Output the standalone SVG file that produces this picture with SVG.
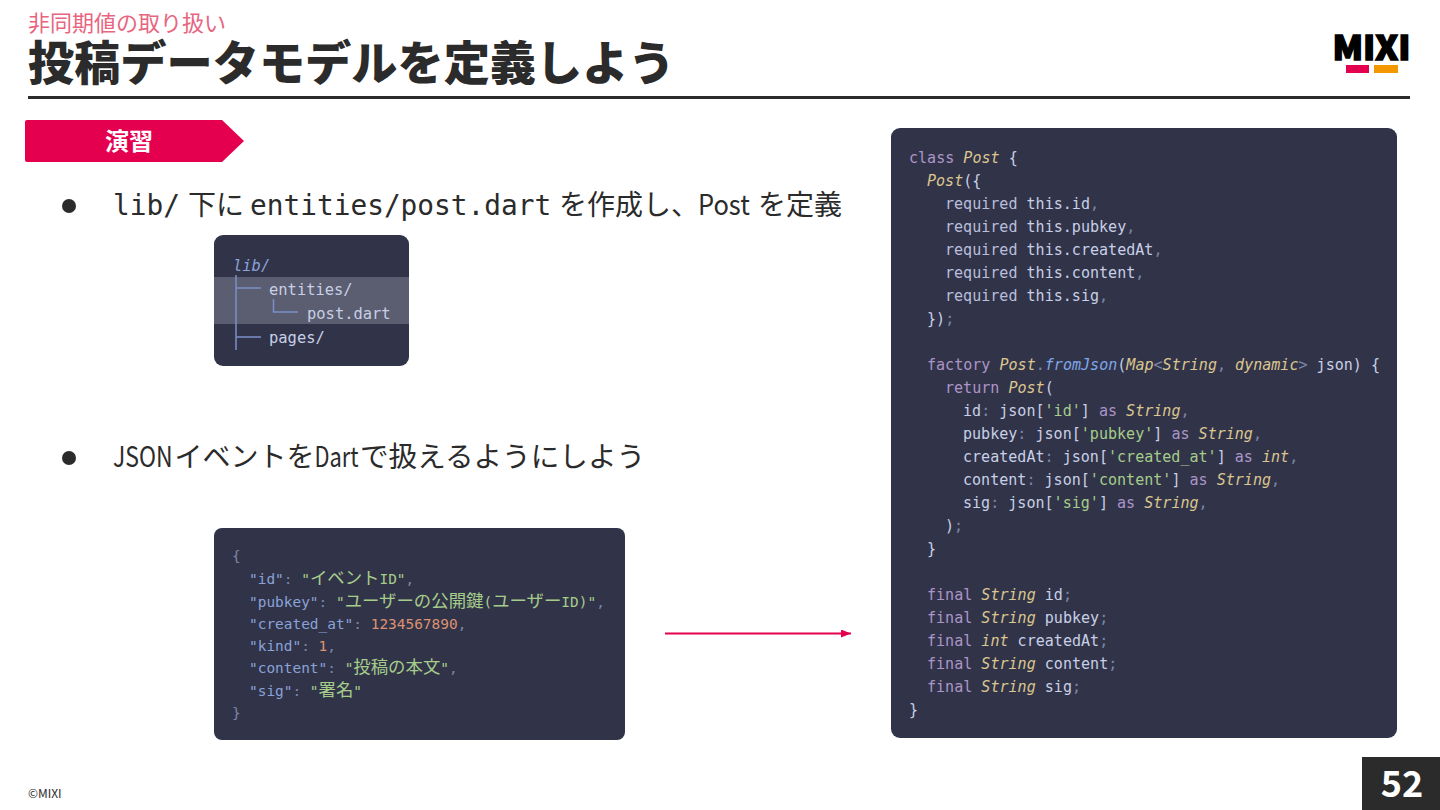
<svg xmlns="http://www.w3.org/2000/svg" width="1440" height="810" viewBox="0 0 1440 810">
<style>
text{font-family:"Noto Sans CJK JP","Noto Sans",sans-serif}
.m{font-family:"DejaVu Sans Mono","Noto Sans CJK JP",monospace}
.panel{fill:#313449}
.b{font-size:28px;fill:#2b2b2b}
.bm{font-size:27.8px;fill:#2b2b2b;font-family:"DejaVu Sans Mono","Noto Sans CJK JP",monospace}
.c{font-size:15.05px;fill:#c8cfe6}
.j{font-size:14.45px;fill:#8aa2d8}
.t{font-size:15.45px;fill:#c8cfe6}
.k{fill:#ad94c8}
.y{fill:#dcc68f;font-style:italic}
.p{fill:#7c86a8}
.s{fill:#a6cc8a}
.n{fill:#dc9272}
.f{fill:#7fa6e8;font-style:italic}
.r{fill:#b9bedb}
.cj{font-size:17.4px}
</style>
<defs>
<marker id="ah" markerUnits="userSpaceOnUse" markerWidth="10" markerHeight="8" refX="10" refY="4" orient="auto"><path d="M0 0L10 4L0 8Z" fill="#e5004f"/></marker>
</defs>
<rect width="1440" height="810" fill="#fff"/>
<g id="header">
<text x="28" y="31" font-size="22" fill="#e8657f">非同期値の取り扱い</text>
<text x="28" y="80" font-size="46.200" font-weight="900" fill="#2b2b2b">投稿データモデルを定義しよう</text>
<rect x="28" y="96" width="1382" height="3" fill="#2b2b2b"/>
</g>
<g id="logo">
<text x="1332.500" y="60" font-family="Inter,sans-serif" font-size="33" font-weight="900" fill="#000" stroke="#000" stroke-width="1.500" textLength="78" lengthAdjust="spacingAndGlyphs">MIXI</text>
<rect x="1346" y="65" width="23" height="8" fill="#e5004f"/>
<rect x="1374" y="65" width="24" height="8" fill="#f39800"/>
</g>
<g id="badge">
<path d="M27 120H222L244 141L222 162H27Q25 162 25 160V122Q25 120 27 120Z" fill="#e5004f"/>
<text x="105" y="150" font-size="24" font-weight="700" fill="#fff">演習</text>
</g>
<g id="bullet1">
<circle cx="69" cy="206" r="7" fill="#2b2b2b"/>
<text x="113" y="215" class="bm">lib/</text>
<text x="188" y="215" class="b">下に</text>
<text x="250" y="215" class="bm">entities/post.dart</text>
<text x="559" y="215" class="b">を作成し、</text>
<text transform="translate(698 215) scale(.91 1)" class="b">Post</text>
<text x="758" y="215" class="b">を定義</text>
</g>
<g id="bullet2">
<circle cx="69" cy="458" r="7" fill="#2b2b2b"/>
<text transform="translate(113 467) scale(.82 1)" class="b">JSON</text>
<text x="174.500" y="467" class="b">イベントを</text>
<text transform="translate(314.500 467) scale(.78 1)" class="b">Dart</text>
<text x="360" y="467" class="b" style="font-size:28.6px">で扱えるようにしよう</text>
</g>
<g id="tree">
<rect x="214" y="235" width="195" height="131" rx="9" class="panel"/>
<rect x="214" y="277" width="195" height="47" fill="#5b5d70"/>
<path d="M236 275V350M236 288H261M236 337H261M273.500 299V312H298" fill="none" stroke="#7b8fc7" stroke-width="1.500"/>
<text x="233" y="271" class="m t" style="fill:#8aa2d8;font-style:italic">lib/</text>
<text x="269" y="295" class="m t">entities/</text>
<text x="307" y="319" class="m t">post.dart</text>
<text x="269" y="343" class="m t">pages/</text>
</g>
<g id="json">
<rect x="214" y="528" width="411" height="212" rx="8" class="panel"/>
<text x="232" y="560.500" class="m j"><tspan class="p">{</tspan></text>
<text x="249" y="583.500" class="m j">"id"<tspan class="p">: </tspan><tspan class="s">"<tspan class="cj">イベント</tspan>ID"</tspan><tspan class="p">,</tspan></text>
<text x="249" y="606.500" class="m j">"pubkey"<tspan class="p">: </tspan><tspan class="s">"<tspan class="cj">ユーザーの公開鍵</tspan>(<tspan class="cj">ユーザー</tspan>ID)"</tspan><tspan class="p">,</tspan></text>
<text x="249" y="628.500" class="m j">"created_at"<tspan class="p">: </tspan><tspan class="n">1234567890</tspan><tspan class="p">,</tspan></text>
<text x="249" y="650.500" class="m j">"kind"<tspan class="p">: </tspan><tspan class="n">1</tspan><tspan class="p">,</tspan></text>
<text x="249" y="672.500" class="m j">"content"<tspan class="p">: </tspan><tspan class="s">"<tspan class="cj">投稿の本文</tspan>"</tspan><tspan class="p">,</tspan></text>
<text x="249" y="695.500" class="m j">"sig"<tspan class="p">: </tspan><tspan class="s">"<tspan class="cj">署名</tspan>"</tspan></text>
<text x="232" y="717.500" class="m j"><tspan class="p">}</tspan></text>
</g>
<g id="connectors">
<line x1="665" y1="633.500" x2="851" y2="633.500" stroke="#e5004f" stroke-width="1.800" marker-end="url(#ah)"/>
</g>
<g id="code">
<rect x="891" y="128" width="506" height="610" rx="9" class="panel"/>
<text x="909" y="163" class="m c"><tspan class="k">class</tspan> <tspan class="y">Post</tspan> {</text>
<text x="927" y="186" class="m c"><tspan class="y">Post</tspan>({</text>
<text x="945" y="209" class="m c"><tspan class="r">required</tspan> this.id<tspan class="p">,</tspan></text>
<text x="945" y="232" class="m c"><tspan class="r">required</tspan> this.pubkey<tspan class="p">,</tspan></text>
<text x="945" y="255" class="m c"><tspan class="r">required</tspan> this.createdAt<tspan class="p">,</tspan></text>
<text x="945" y="278" class="m c"><tspan class="r">required</tspan> this.content<tspan class="p">,</tspan></text>
<text x="945" y="301" class="m c"><tspan class="r">required</tspan> this.sig<tspan class="p">,</tspan></text>
<text x="927" y="324" class="m c">})<tspan class="p">;</tspan></text>
<text x="927" y="370" class="m c"><tspan class="k">factory</tspan> <tspan class="y">Post</tspan><tspan class="p">.</tspan><tspan class="f">fromJson</tspan>(<tspan class="y">Map</tspan><tspan class="p">&lt;</tspan><tspan class="y">String</tspan><tspan class="p">,</tspan> <tspan class="y">dynamic</tspan><tspan class="p">&gt;</tspan> json) {</text>
<text x="945" y="393" class="m c"><tspan class="k">return</tspan> <tspan class="y">Post</tspan>(</text>
<text x="963" y="416" class="m c">id<tspan class="p">:</tspan> json[<tspan class="s">'id'</tspan>] <tspan class="k">as</tspan> <tspan class="y">String</tspan><tspan class="p">,</tspan></text>
<text x="963" y="439" class="m c">pubkey<tspan class="p">:</tspan> json[<tspan class="s">'pubkey'</tspan>] <tspan class="k">as</tspan> <tspan class="y">String</tspan><tspan class="p">,</tspan></text>
<text x="963" y="462" class="m c">createdAt<tspan class="p">:</tspan> json[<tspan class="s">'created_at'</tspan>] <tspan class="k">as</tspan> <tspan class="y">int</tspan><tspan class="p">,</tspan></text>
<text x="963" y="485" class="m c">content<tspan class="p">:</tspan> json[<tspan class="s">'content'</tspan>] <tspan class="k">as</tspan> <tspan class="y">String</tspan><tspan class="p">,</tspan></text>
<text x="963" y="508" class="m c">sig<tspan class="p">:</tspan> json[<tspan class="s">'sig'</tspan>] <tspan class="k">as</tspan> <tspan class="y">String</tspan><tspan class="p">,</tspan></text>
<text x="945" y="531" class="m c">)<tspan class="p">;</tspan></text>
<text x="927" y="554" class="m c">}</text>
<text x="927" y="600" class="m c"><tspan class="k">final</tspan> <tspan class="y">String</tspan> id<tspan class="p">;</tspan></text>
<text x="927" y="623" class="m c"><tspan class="k">final</tspan> <tspan class="y">String</tspan> pubkey<tspan class="p">;</tspan></text>
<text x="927" y="646" class="m c"><tspan class="k">final</tspan> <tspan class="y">int</tspan> createdAt<tspan class="p">;</tspan></text>
<text x="927" y="669" class="m c"><tspan class="k">final</tspan> <tspan class="y">String</tspan> content<tspan class="p">;</tspan></text>
<text x="927" y="692" class="m c"><tspan class="k">final</tspan> <tspan class="y">String</tspan> sig<tspan class="p">;</tspan></text>
<text x="909" y="715" class="m c">}</text>
</g>
<g id="footer">
<text x="28" y="798" font-family="'Liberation Sans',sans-serif" font-size="12" fill="#2b2b2b">©MIXI</text>
<rect x="1362" y="757" width="78" height="53" fill="#2b2b2b"/>
<text x="1402" y="797" text-anchor="middle" font-size="36" font-weight="700" fill="#fff">52</text>
</g>
</svg>
